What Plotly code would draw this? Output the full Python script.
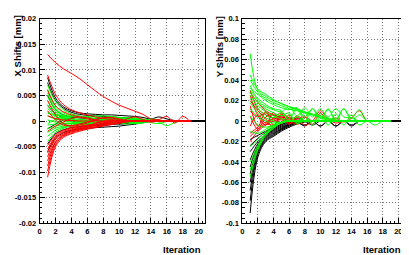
import plotly.graph_objects as go

# ---------------- data ----------------
ITERATIONS = list(range(1, 22))

X_TICK_VALS = [0, 2, 4, 6, 8, 10, 12, 14, 16, 18, 20]
X_TICK_TEXT = ["0", "2", "4", "6", "8", "10", "12", "14", "16", "18", "20"]

XS_TICK_VALS = [-0.02, -0.015, -0.01, -0.005, 0, 0.005, 0.01, 0.015, 0.02]
XS_TICK_TEXT = ["-0.02", "-0.015", "-0.01", "-0.005", "0", "0.005", "0.01", "0.015", "0.02"]

YS_TICK_VALS = [-0.1, -0.08, -0.06, -0.04, -0.02, 0, 0.02, 0.04, 0.06, 0.08, 0.1]
YS_TICK_TEXT = ["-0.1", "-0.08", "-0.06", "-0.04", "-0.02", "0", "0.02", "0.04", "0.06", "0.08", "0.1"]

# X shifts [mm] per iteration (left panel)
X_BLACK = [
    [0.0085, 0.0045, 0.0028, 0.0020, 0.0016, 0.0014, 0.0013, 0.0012, 0.0012, 0.0011, 0.0010, 0.0009, 0.0007, 0.0004, 0.0008, 0.0004, 0.0001],
    [0.0075, 0.0040, 0.0025, 0.0017, 0.0013, 0.0011, 0.0010, 0.0009, 0.0008, 0.0007, 0.0006, 0.0004, 0.0002],
    [-0.0060, -0.0033, -0.0023, -0.0018, -0.0015, -0.0014, -0.0013, -0.0012, -0.0011, -0.0010, -0.0008, -0.0006, -0.0003, -0.0001],
    [-0.0045, -0.0025, -0.0017, -0.0013, -0.0011, -0.0010, -0.0009, -0.0008, -0.0007, -0.0005, -0.0003, -0.0001],
    [0.0030, 0.0014, 0.0006, 0.0001, -0.0004, -0.0007, -0.0008, -0.0006, -0.0002, 0.0003, 0.0006, 0.0005, 0.0002],
    [-0.0015, -0.0006, 0.0002, 0.0006, 0.0008, 0.0007, 0.0004, 0.0000, -0.0004, -0.0006, -0.0005, -0.0002],
    [0.0050, 0.0022, 0.0012, 0.0008, 0.0006, 0.0005, 0.0004, 0.0003, 0.0002, 0.0001],
]
X_GREEN = [
    [0.0070, 0.0038, 0.0022, 0.0014, 0.0010, 0.0008, 0.0008, 0.0007, 0.0007, 0.0006, 0.0005, 0.0004, 0.0002, 0.0001, -0.0002, -0.0009, -0.0003],
    [0.0062, 0.0030, 0.0016, 0.0010, 0.0007, 0.0006, 0.0005, 0.0005, 0.0004, 0.0003, 0.0002],
    [0.0055, 0.0025, 0.0012, 0.0006, 0.0003, 0.0001, -0.0001, -0.0002, -0.0001],
    [0.0048, 0.0022, 0.0010, 0.0004, 0.0000, -0.0003, -0.0005, -0.0004, -0.0001, 0.0003, 0.0005, 0.0003],
    [0.0040, 0.0018, 0.0008, 0.0003, 0.0001, 0.0001, 0.0003, 0.0005, 0.0006, 0.0004, 0.0000, -0.0004, -0.0002],
    [0.0032, 0.0014, 0.0006, 0.0002, -0.0001, -0.0003, -0.0002, 0.0001, 0.0004, 0.0006, 0.0004, 0.0001],
    [0.0025, 0.0010, 0.0004, 0.0001, -0.0002, -0.0004, -0.0005, -0.0003, 0.0000, 0.0004, 0.0007, 0.0006, 0.0002, -0.0003, -0.0005, -0.0001],
    [0.0018, 0.0008, 0.0003, 0.0000, 0.0002, 0.0004, 0.0005, 0.0004, 0.0001, -0.0003, -0.0006, -0.0004, 0.0000, 0.0004, 0.0002],
    [0.0010, 0.0004, 0.0000, -0.0002, -0.0003, -0.0002, 0.0001, 0.0004, 0.0005, 0.0003, -0.0001, -0.0005, -0.0004],
    [0.0002, -0.0002, -0.0004, -0.0005, -0.0004, -0.0001, 0.0002, 0.0003, 0.0002, -0.0001, -0.0003, -0.0002],
    [-0.0008, -0.0006, -0.0005, -0.0004, -0.0002, 0.0000, 0.0002, 0.0003, 0.0002],
    [-0.0015, -0.0010, -0.0007, -0.0005, -0.0004, -0.0003, -0.0002, -0.0001],
    [-0.0022, -0.0014, -0.0010, -0.0008, -0.0006, -0.0005, -0.0004, -0.0003, -0.0002, -0.0001],
    [-0.0030, -0.0018, -0.0012, -0.0009, -0.0007, -0.0006, -0.0005, -0.0004, -0.0004, -0.0003, -0.0002],
    [-0.0040, -0.0022, -0.0014, -0.0010, -0.0008, -0.0007, -0.0006, -0.0005, -0.0004, -0.0003, -0.0001],
    [0.0015, 0.0012, 0.0010, 0.0009, 0.0008, 0.0009, 0.0010, 0.0010, 0.0009, 0.0007, 0.0005, 0.0003, 0.0001],
    [-0.0005, 0.0003, 0.0008, 0.0010, 0.0009, 0.0006, 0.0002, -0.0002, -0.0004, -0.0002, 0.0002, 0.0005, 0.0004, 0.0001],
]
X_RED = [
    [0.0130, 0.0114, 0.0102, 0.0093, 0.0083, 0.0071, 0.0059, 0.0048, 0.0039, 0.0031, 0.0025, 0.0019, 0.0013, 0.0004, 0.0003, 0.0009, -0.0004, 0.0009, -0.0002],
    [0.0090, 0.0052, 0.0032, 0.0022, 0.0016, 0.0012, 0.0008, 0.0005, 0.0003, 0.0001],
    [-0.0110, -0.0050, -0.0032, -0.0025, -0.0020, -0.0016, -0.0013, -0.0010, -0.0007, -0.0004, -0.0002],
    [-0.0098, -0.0046, -0.0030, -0.0023, -0.0018, -0.0015, -0.0012, -0.0009, -0.0006, -0.0003],
    [-0.0088, -0.0042, -0.0028, -0.0021, -0.0017, -0.0014, -0.0011, -0.0008, -0.0005, -0.0002],
    [-0.0078, -0.0040, -0.0027, -0.0020, -0.0016, -0.0012, -0.0009, -0.0006, -0.0003],
    [-0.0070, -0.0036, -0.0025, -0.0019, -0.0015, -0.0011, -0.0008, -0.0005, -0.0002],
    [-0.0062, -0.0033, -0.0022, -0.0017, -0.0013, -0.0010, -0.0007, -0.0004],
    [-0.0055, -0.0030, -0.0020, -0.0015, -0.0012, -0.0009, -0.0006],
    [-0.0048, -0.0027, -0.0018, -0.0013, -0.0010, -0.0008, -0.0005],
    [0.0040, 0.0012, -0.0005, -0.0010, -0.0008, -0.0004, 0.0002, 0.0006, 0.0007, 0.0004, 0.0001],
    [-0.0020, -0.0010, -0.0002, 0.0005, 0.0008, 0.0006, 0.0002, -0.0002, -0.0005, -0.0004, -0.0001],
    [0.0060, 0.0030, 0.0018, 0.0012, 0.0008, 0.0004, 0.0001, -0.0001],
    [0.0020, 0.0002, -0.0008, -0.0009, -0.0006, -0.0002, 0.0003, 0.0006, 0.0006, 0.0003],
    [0.0010, 0.0005, 0.0002, 0.0001, 0.0000, 0.0000, -0.0002, -0.0004, -0.0006, -0.0003, 0.0004, 0.0008, 0.0003, -0.0002],
]

# Y shifts [mm] per iteration (right panel)
Y_RED = [
    [0.030, 0.012, 0.006, 0.003, 0.001, 0.000, 0.002, 0.004, -0.003, 0.008, 0.000, 0.003, -0.001, 0.003, 0.010, 0.000],
    [0.025, 0.005, -0.004, 0.008, -0.002, 0.006, -0.002, 0.004, 0.000],
    [0.020, 0.010, 0.002, -0.006, 0.007, -0.003, 0.005, 0.000],
    [0.015, -0.005, 0.009, -0.004, 0.006, 0.000, -0.003, 0.000],
    [0.010, 0.004, 0.008, 0.002, -0.003, 0.004, 0.000],
    [0.005, -0.008, 0.004, 0.006, 0.002, -0.002, 0.000],
    [-0.005, 0.006, -0.002, 0.003, 0.008, 0.003, 0.000],
    [-0.012, -0.006, -0.001, 0.002, 0.004, 0.003, 0.001],
    [-0.020, -0.010, -0.004, 0.000, 0.002, 0.001],
    [0.028, 0.018, 0.010, 0.006, 0.004, 0.002],
    [-0.015, -0.008, -0.003, -0.004, 0.004, -0.003, 0.003, -0.004, 0.000, 0.010, 0.002, -0.002, 0.000],
]
Y_BLACK = [
    [-0.090, -0.035, -0.020, -0.015, -0.010, -0.006, -0.003, -0.001],
    [-0.078, -0.032, -0.019, -0.014, -0.009, -0.005, -0.002],
    [-0.068, -0.030, -0.018, -0.013, -0.008, -0.004, -0.001],
    [-0.060, -0.028, -0.017, -0.012, -0.008, -0.004, -0.002, -0.004, 0.000, -0.005, 0.000, -0.005, 0.000, -0.004],
    [-0.052, -0.026, -0.016, -0.011, -0.007, -0.003, 0.000, -0.005, 0.000, -0.005, 0.000, -0.005, 0.000, -0.005, 0.000],
    [-0.045, -0.024, -0.015, -0.010, -0.006, -0.003, -0.001],
    [-0.038, -0.022, -0.014, -0.009, -0.005, -0.002, 0.000],
    [-0.030, -0.020, -0.013, -0.008, -0.004, -0.001],
    [-0.024, -0.017, -0.011, -0.007, -0.003, -0.001],
    [-0.018, -0.014, -0.010, -0.006, -0.003, 0.000, 0.003, 0.000, -0.004, 0.000],
]
Y_GREEN = [
    [0.066, 0.030, 0.024, 0.020, 0.017, 0.014, 0.011, 0.009, 0.007, 0.005, 0.003, 0.001],
    [0.045, 0.031, 0.026, 0.021, 0.017, 0.014, 0.012, 0.009, 0.006, 0.003, 0.001],
    [0.040, 0.028, 0.022, 0.018, 0.015, 0.012, 0.010, 0.008, 0.006, 0.004, 0.002],
    [0.032, 0.026, 0.020, 0.016, 0.013, 0.011, 0.013, 0.004, 0.012, 0.003, 0.011, 0.002, 0.012, 0.003, 0.011, 0.000],
    [0.030, 0.022, 0.016, 0.012, 0.010, 0.002, 0.012, 0.000, 0.012, 0.000, 0.012, 0.000, 0.012, 0.000, 0.006, 0.000],
    [0.028, 0.018, 0.012, 0.008, 0.005, 0.008, -0.003, 0.008, -0.004, 0.007, -0.004, 0.007, -0.004, 0.006, -0.004, 0.000, -0.004, 0.000],
    [0.025, 0.015, 0.009, 0.005, 0.002, 0.000, 0.004, 0.000],
    [0.022, 0.012, 0.006, 0.003, 0.008, 0.000],
    [0.018, 0.008, 0.003, 0.000, -0.002, 0.006, -0.002, 0.000],
    [0.012, 0.004, 0.000, -0.002, -0.001],
    [0.005, -0.004, -0.006, -0.004, -0.002, 0.000],
    [-0.010, -0.012, -0.008, -0.004, -0.001],
    [-0.025, -0.018, -0.010, -0.005, -0.002],
    [-0.040, -0.024, -0.012, -0.006, -0.002],
    [-0.055, -0.028, -0.014, -0.007, -0.002],
    [-0.048, -0.026, -0.013, -0.006, -0.002],
    [0.035, 0.020, 0.014, 0.011, 0.009, 0.014, 0.005, 0.013, 0.004, 0.012, 0.004, 0.012, 0.004, 0.003, 0.000],
]

RED = "#ff0000"
GREEN = "#00ff00"
BLACK = "#000000"

fig = go.Figure()


def add_curves(curves, color, last_iter, xa, ya):
    for vals in curves:
        ys = list(vals) + [0.0] * (last_iter - len(vals))
        fig.add_trace(go.Scatter(
            x=ITERATIONS[:last_iter], y=ys, mode="lines",
            line=dict(color=color, width=1, shape="spline", smoothing=1.0),
            xaxis=xa, yaxis=ya, showlegend=False, hoverinfo="skip"))


# left panel
add_curves(X_BLACK, BLACK, 21, "x", "y")
add_curves(X_GREEN, GREEN, 19, "x", "y")
add_curves(X_RED, RED, 19, "x", "y")
# right panel
add_curves(Y_BLACK, BLACK, 21, "x2", "y2")
add_curves(Y_RED, RED, 19, "x2", "y2")
add_curves(Y_GREEN, GREEN, 19, "x2", "y2")

FONT = "Liberation Sans"
tickfont = dict(family=FONT, size=7.5, color="black", weight="bold")
common = dict(
    showline=True, linecolor="black", linewidth=1, mirror=True,
    ticks="inside", ticklen=5, tickcolor="black", tickwidth=1,
    showgrid=True, gridcolor="#777777", gridwidth=1, griddash="1px,2px",
    zeroline=False, tickfont=tickfont, ticklabelstandoff=1,
)

y_dom = [1 - 219 / 255, 1 - 7 / 255]

fig.update_layout(
    width=409, height=255,
    margin=dict(l=0, r=0, t=0, b=0),
    paper_bgcolor="white", plot_bgcolor="white",
    xaxis=dict(domain=[29.8 / 409, 196 / 409], range=[0, 20.8], anchor="y",
               tickmode="array", tickvals=X_TICK_VALS, ticktext=X_TICK_TEXT,
               minor=dict(tickmode="linear", tick0=0, dtick=0.5, ticks="inside",
                          ticklen=2.5, tickcolor="black", showgrid=False),
               **common),
    yaxis=dict(domain=y_dom, range=[-0.02, 0.02], anchor="x",
               tickmode="array", tickvals=XS_TICK_VALS, ticktext=XS_TICK_TEXT,
               minor=dict(tickmode="linear", tick0=0, dtick=0.001, ticks="inside",
                          ticklen=2.5, tickcolor="black", showgrid=False),
               **common),
    xaxis2=dict(domain=[233.5 / 409, 396.5 / 409], range=[0, 20.8], anchor="y2",
                tickmode="array", tickvals=X_TICK_VALS, ticktext=X_TICK_TEXT,
                minor=dict(tickmode="linear", tick0=0, dtick=0.5, ticks="inside",
                           ticklen=2.5, tickcolor="black", showgrid=False),
                **common),
    yaxis2=dict(domain=y_dom, range=[-0.1, 0.1], anchor="x2",
                tickmode="array", tickvals=YS_TICK_VALS, ticktext=YS_TICK_TEXT,
                minor=dict(tickmode="linear", tick0=0, dtick=0.005, ticks="inside",
                           ticklen=2.5, tickcolor="black", showgrid=False),
                **common),
)

titlefont = dict(family=FONT, size=9.5, color="black", weight="bold")
fig.add_annotation(text="X Shifts [mm]", textangle=-90, xref="paper", yref="paper",
                   x=7.5 / 409, y=1 - 1.5 / 255, xanchor="center", yanchor="top",
                   showarrow=False, font=titlefont)
fig.add_annotation(text="Y Shifts [mm]", textangle=-90, xref="paper", yref="paper",
                   x=211.3 / 409, y=1 - 2.5 / 255, xanchor="center", yanchor="top",
                   showarrow=False, font=titlefont)
fig.add_annotation(text="Iteration", xref="paper", yref="paper",
                   x=193.5 / 409, y=1 - 246.7 / 255, xanchor="right", yanchor="middle",
                   showarrow=False, font=titlefont)
fig.add_annotation(text="Iteration", xref="paper", yref="paper",
                   x=394.5 / 409, y=1 - 246.7 / 255, xanchor="right", yanchor="middle",
                   showarrow=False, font=titlefont)

fig.write_html("out.html")
